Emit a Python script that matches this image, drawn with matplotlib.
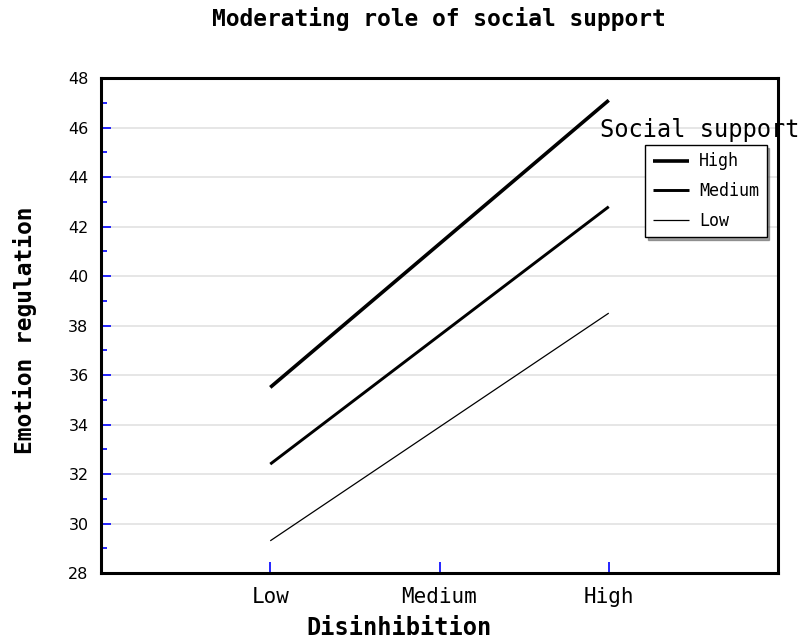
import matplotlib
matplotlib.use("Agg")
import matplotlib.pyplot as plt
import numpy as np

# data
levels = ["Low", "Medium", "High"]
support = ["High", "Medium", "Low"]
y_high = [35.5, 41.3, 47.1]
y_medium = [32.4, 37.6, 42.8]
y_low = [29.3, 33.9, 38.5]
widths = [2.6, 2.1, 0.9]

mono = ["DejaVu Sans Mono"]
fig = plt.figure(figsize=(8.07, 6.43), dpi=100)
ax = fig.add_axes([101 / 807, 1 - 573 / 643, 677 / 807, 495 / 643])

x = np.arange(1, len(levels) + 1)
for name, ys, lw in zip(support, [y_high, y_medium, y_low], widths):
    ax.plot(x, ys, color="black", lw=lw, label=name, solid_capstyle="butt")

ax.set_xlim(0, 4)
ax.set_ylim(28, 48)
ax.set_xticks(x)
ax.set_xticklabels(levels, family=mono, fontsize=15)
ax.set_yticks(np.arange(28, 49, 2))
ax.set_yticks(np.arange(29, 48, 2), minor=True)
ax.tick_params(axis="y", which="major", direction="in", length=7, width=1.2,
               color="blue", labelsize=11.5, pad=9)
ax.tick_params(axis="y", which="minor", direction="in", length=4, width=1.2, color="blue")
ax.tick_params(axis="x", direction="in", length=8, width=1.2, color="blue", pad=10)
ax.grid(axis="y", color="#e2e2e2", lw=1.2)
ax.set_axisbelow(True)
for s in ax.spines.values():
    s.set_linewidth(2.2)

fig.text(439 / 807, 1 - 19 / 643, "Moderating role of social support", ha="center",
         va="center", family=mono, fontsize=16.5, fontweight="bold")
fig.text(25 / 807, 1 - 330 / 643, "Emotion regulation", rotation=90, ha="center",
         va="center", family=mono, fontsize=16.5, fontweight="bold")
fig.text(399 / 807, 1 - 628 / 643, "Disinhibition", ha="center", va="center",
         family=mono, fontsize=17, fontweight="bold")

fig.text(700 / 807, 1 - 130 / 643, "Social support", ha="center", va="center",
         family=mono, fontsize=17)
leg = ax.legend(loc="upper left", bbox_to_anchor=(645 / 807, 1 - 145 / 643),
                bbox_transform=fig.transFigure, prop={"family": mono, "size": 12},
                frameon=True, fancybox=False, shadow=True, handlelength=2.2,
                borderpad=0.45, labelspacing=0.7, handletextpad=0.6,
                borderaxespad=0)
leg.get_frame().set_edgecolor("black")
leg.get_frame().set_linewidth(1.0)

fig.savefig("out.png", dpi=100)
